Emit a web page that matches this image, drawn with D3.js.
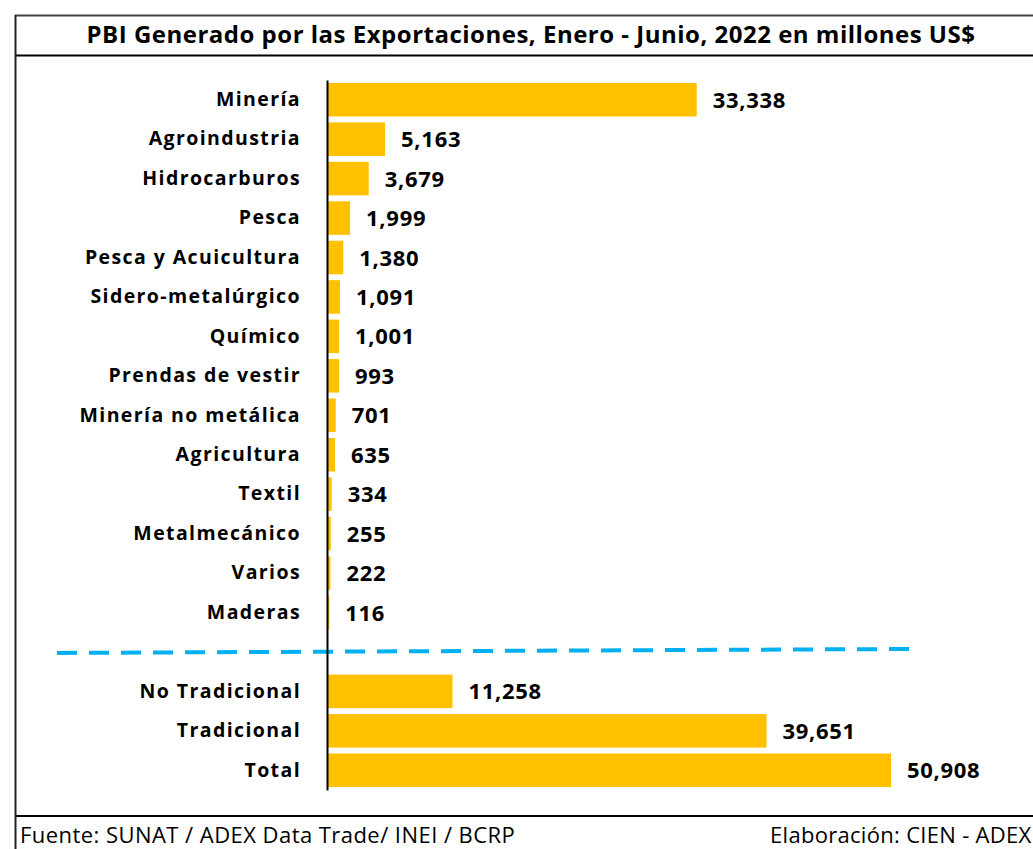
<!DOCTYPE html>
<html>
<head>
<meta charset="utf-8">
<script src="https://cdn.jsdelivr.net/npm/d3@7"></script>
<style>
  body { margin: 0; background: #fff; }
  svg { display: block; font-family: "Open Sans", Lato, sans-serif; }
</style>
</head>
<body>
<div id="chart"></div>
<script>
// sectores, Enero - Junio 2022 (millones US$)
const sectores = ["Minería", "Agroindustria", "Hidrocarburos", "Pesca", "Pesca y Acuicultura",
    "Sidero-metalúrgico", "Químico", "Prendas de vestir", "Minería no metálica", "Agricultura",
    "Textil", "Metalmecánico", "Varios", "Maderas"];
const sectorValores = [33338, 5163, 3679, 1999, 1380, 1091, 1001, 993, 701, 635, 334, 255, 222, 116];

const totales = ["No Tradicional", "Tradicional", "Total"];
const totalValores = [11258, 39651, 50908];

const titulo = "PBI Generado por las Exportaciones, Enero - Junio, 2022 en millones US$";
const fuente = "Fuente: SUNAT / ADEX Data Trade/ INEI / BCRP";
const elaboracion = "Elaboración: CIEN - ADEX";

const width = 1033, height = 849;
const SEP = "__sep";

let rows = sectores.map((d, i) => ({name: d, value: sectorValores[i]}))
    .concat([{name: SEP, value: null}])
    .concat(totales.map((d, i) => ({name: d, value: totalValores[i]})));

const svg = d3.select("#chart").append("svg")
    .attr("width", width)
    .attr("height", height);

// frame
svg.append("line").attr("x1", 15).attr("x2", width).attr("y1", 15.5).attr("y2", 15.5)
    .attr("stroke", "#444").attr("stroke-width", 2);
svg.append("line").attr("x1", 15).attr("x2", width).attr("y1", 55.5).attr("y2", 55.5)
    .attr("stroke", "#000").attr("stroke-width", 2);
svg.append("line").attr("x1", 15).attr("x2", width).attr("y1", 816).attr("y2", 816)
    .attr("stroke", "#000").attr("stroke-width", 2);
svg.append("line").attr("x1", 15.5).attr("x2", 15.5).attr("y1", 15).attr("y2", height)
    .attr("stroke", "#222").attr("stroke-width", 2);

svg.append("text")
    .attr("x", 531).attr("y", 43)
    .attr("text-anchor", "middle")
    .attr("font-size", 24).attr("font-weight", "bold")
    .attr("letter-spacing", 0.5)
    .text(titulo);

// scales
let x = d3.scaleLinear()
    .domain([0, d3.max(totalValores)])
    .range([328, 891]);

let y = d3.scaleBand()
    .domain(rows.map(d => d.name))
    .range([80, 790])
    .paddingInner(0.15)
    .paddingOuter(0.075);

// bars
svg.selectAll("rect.bar")
    .data(rows.filter(d => d.value !== null))
    .enter().append("rect")
    .attr("class", "bar")
    .attr("x", x(0))
    .attr("y", d => y(d.name))
    .attr("width", d => x(d.value) - x(0))
    .attr("height", y.bandwidth())
    .attr("fill", "#FFC000");

// value labels
svg.selectAll("text.val")
    .data(rows.filter(d => d.value !== null))
    .enter().append("text")
    .attr("class", "val")
    .attr("x", d => x(d.value) + 16)
    .attr("y", d => y(d.name) + y.bandwidth() / 2 + 8)
    .attr("font-size", 22).attr("font-weight", "bold")
    .attr("letter-spacing", 0.7)
    .text(d => d3.format(",")(d.value));

// separator dashed line
let ySep = y(SEP) + y.bandwidth() / 2;
svg.append("line")
    .attr("x1", 57).attr("x2", 917)
    .attr("y1", ySep + 1).attr("y2", ySep - 3)
    .attr("stroke", "#00B0F0")
    .attr("stroke-width", 4)
    .attr("stroke-dasharray", "20 12");

// category axis
let yAxis = d3.axisLeft(y)
    .tickSize(0)
    .tickPadding(26)
    .tickFormat(d => d === SEP ? "" : d);

let axisG = svg.append("g")
    .attr("transform", `translate(${x(0) - 1},0)`)
    .call(yAxis);

axisG.select(".domain").attr("stroke", "#000").attr("stroke-width", 2);
axisG.selectAll(".tick text")
    .attr("font-family", "'Open Sans', Lato, sans-serif")
    .attr("font-size", 19.5).attr("font-weight", "bold")
    .attr("letter-spacing", 1.4)
    .attr("fill", "#000");

// footer
svg.append("text")
    .attr("x", 20).attr("y", 843)
    .attr("font-size", 22)
    .attr("letter-spacing", 0.45)
    .text(fuente);
svg.append("text")
    .attr("x", 770).attr("y", 843)
    .attr("font-size", 22)
    .attr("letter-spacing", 0.3)
    .text(elaboracion);
</script>
</body>
</html>
